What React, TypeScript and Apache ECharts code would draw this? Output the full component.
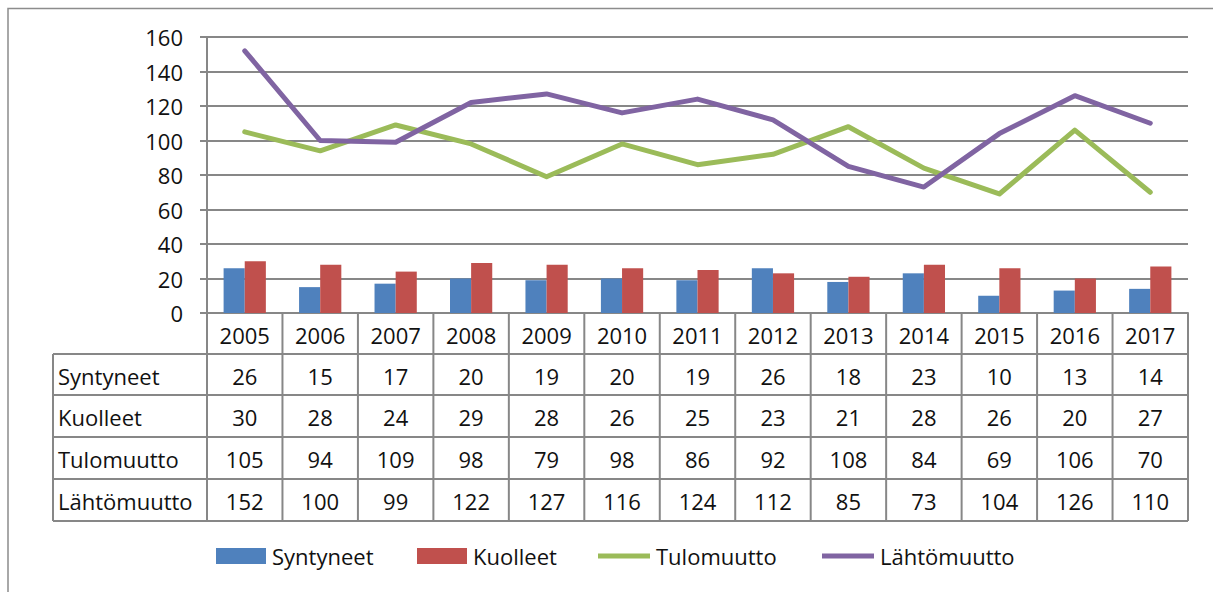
import React, { useEffect, useRef } from "react";
import * as echarts from "echarts";

const years = ["2005", "2006", "2007", "2008", "2009", "2010", "2011", "2012", "2013", "2014", "2015", "2016", "2017"];
const syntyneet = [26, 15, 17, 20, 19, 20, 19, 26, 18, 23, 10, 13, 14];
const kuolleet = [30, 28, 24, 29, 28, 26, 25, 23, 21, 28, 26, 20, 27];
const tulomuutto = [105, 94, 109, 98, 79, 98, 86, 92, 108, 84, 69, 106, 70];
const lahtomuutto = [152, 100, 99, 122, 127, 116, 124, 112, 85, 73, 104, 126, 110];
const seriesNames = ["Syntyneet", "Kuolleet", "Tulomuutto", "Lähtömuutto"];
const seriesColors = ["#4F81BD", "#C0504D", "#9BBB59", "#8064A2"];
const yMin = 0;
const yMax = 160;
const yInterval = 20;

const FONT = '"Open Sans", "Noto Sans", sans-serif';
const GRAY = "#878787";

export default function App() {
  const ref = useRef<HTMLDivElement>(null);
  useEffect(() => {
    if (!ref.current) return;
    const chart = echarts.init(ref.current, undefined, { renderer: "svg" });

    const gridLeft = 207;
    const gridTop = 37;
    const gridWidth = 981;
    const gridHeight = 276;
    const gridRight = gridLeft + gridWidth;
    const axisY = gridTop + gridHeight;
    const catW = gridWidth / years.length;
    const tableLeft = 53;
    const rowBounds = [axisY, 354, 395, 437, 479, 521];
    const tableRows = [syntyneet, kuolleet, tulomuutto, lahtomuutto];
    const fs = 22;

    const graphics: any[] = [];
    graphics.push({
      type: "rect",
      silent: true,
      shape: { x: 8, y: 8.5, width: 1230, height: 620 },
      style: { fill: "none", stroke: "#8c8c8c", lineWidth: 1.5 },
    });
    const hLine = (x1: number, x2: number, y: number) =>
      graphics.push({ type: "line", silent: true, shape: { x1, y1: y, x2, y2: y }, style: { stroke: GRAY, lineWidth: 2 } });
    const vLine = (x: number, y1: number, y2: number) =>
      graphics.push({ type: "line", silent: true, shape: { x1: x, y1, x2: x, y2 }, style: { stroke: GRAY, lineWidth: 2 } });

    hLine(gridLeft, gridRight, rowBounds[0]);
    for (let i = 1; i < rowBounds.length; i++) hLine(tableLeft, gridRight, rowBounds[i]);
    vLine(tableLeft, rowBounds[1], rowBounds[5]);
    for (let c = 0; c <= years.length; c++) vLine(gridLeft + c * catW, rowBounds[0], rowBounds[5]);

    const txt = (text: string, x: number, y: number, align: string) =>
      graphics.push({
        type: "text",
        silent: true,
        x,
        y,
        style: { text, fill: "#111111", fontSize: fs, fontFamily: FONT, align, verticalAlign: "middle" },
      });

    years.forEach((yr, c) => txt(yr, gridLeft + (c + 0.5) * catW, (rowBounds[0] + rowBounds[1]) / 2 + 1, "center"));
    tableRows.forEach((row, r) => {
      const cy = (rowBounds[r + 1] + rowBounds[r + 2]) / 2 + 1;
      txt(seriesNames[r], tableLeft + 5, cy, "left");
      row.forEach((v, c) => txt(String(v), gridLeft + (c + 0.5) * catW, cy, "center"));
    });

    const legendLefts = [216, 417, 598, 822];
    const legends = seriesNames.map((n, i) => ({
      data: [{ name: n, icon: "rect" }],
      left: legendLefts[i],
      top: 545,
      padding: 0,
      itemWidth: i < 2 ? 50 : 52,
      itemHeight: i < 2 ? 16 : 5,
      selectedMode: false,
      textStyle: { fontSize: fs, fontFamily: FONT, color: "#111111", padding: [0, 0, 0, 1] },
    }));

    chart.setOption({
      animation: false,
      backgroundColor: "#ffffff",
      grid: { left: gridLeft, top: gridTop, width: gridWidth, height: gridHeight, containLabel: false },
      legend: legends,
      xAxis: {
        type: "category",
        data: years,
        axisLine: { show: true, lineStyle: { color: GRAY, width: 2 } },
        axisTick: { show: false },
        axisLabel: { show: false },
        splitLine: { show: false },
      },
      yAxis: {
        type: "value",
        min: yMin,
        max: yMax,
        interval: yInterval,
        axisLine: { show: true, lineStyle: { color: GRAY, width: 2 } },
        axisTick: { show: true, inside: false, length: 7, lineStyle: { color: GRAY, width: 2 } },
        axisLabel: { margin: 24, fontSize: fs, fontFamily: FONT, color: "#111111" },
        splitLine: { show: true, lineStyle: { color: GRAY, width: 2 } },
      },
      series: [
        {
          name: seriesNames[0],
          type: "bar",
          data: syntyneet,
          barGap: "0%",
          barCategoryGap: "44%",
          itemStyle: { color: seriesColors[0] },
        },
        {
          name: seriesNames[1],
          type: "bar",
          data: kuolleet,
          barGap: "0%",
          barCategoryGap: "44%",
          itemStyle: { color: seriesColors[1] },
        },
        {
          name: seriesNames[2],
          type: "line",
          data: tulomuutto,
          symbol: "none",
          lineStyle: { color: seriesColors[2], width: 5, cap: "round", join: "round" },
          itemStyle: { color: seriesColors[2] },
        },
        {
          name: seriesNames[3],
          type: "line",
          data: lahtomuutto,
          symbol: "none",
          lineStyle: { color: seriesColors[3], width: 5, cap: "round", join: "round" },
          itemStyle: { color: seriesColors[3] },
        },
      ],
      graphic: graphics,
    });
    return () => chart.dispose();
  }, []);
  return <div ref={ref} style={{ position: "fixed", left: 0, top: 0, width: 1213, height: 592 }} />;
}
